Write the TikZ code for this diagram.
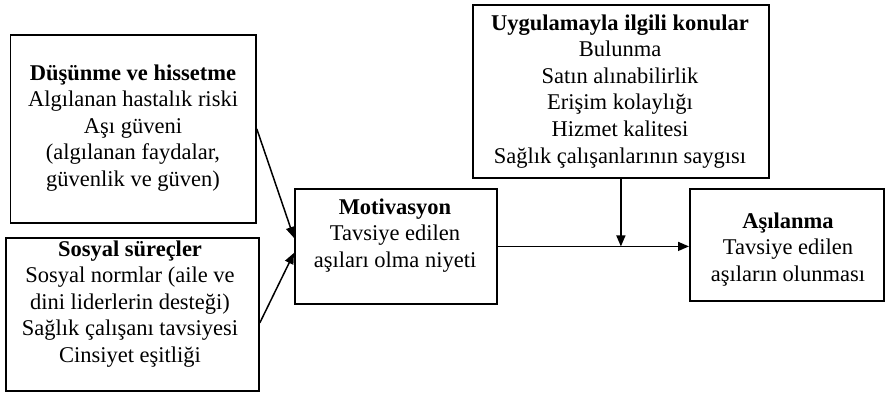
\documentclass[tikz,border=0pt]{standalone}
\usepackage{fontspec}
\setmainfont{Liberation Serif}
\usetikzlibrary{arrows.meta}
\begin{document}
\begin{tikzpicture}[x=0.5pt,y=-0.5pt,
  box/.style={draw, line width=0.9pt, rectangle, inner sep=0pt, anchor=north west},
  txt/.style={anchor=base, inner sep=0pt, font=\fontsize{11.25}{13.3}\selectfont},
  link/.style={line width=0.75pt, -{Triangle[length=5.5pt,width=4.5pt]}}]
\useasboundingbox (0,0) rectangle (885,398);

% frames
\node[box, minimum width=122.75pt, minimum height=94pt]   (think)  at (9.5,34) {};
\node[box, minimum width=126.5pt,  minimum height=76.5pt] (social) at (5,237) {};
\node[box, minimum width=101pt,    minimum height=57.5pt] (motiv)  at (294,188) {};
\node[box, minimum width=148pt,    minimum height=86.5pt] (impl)   at (472,4) {};
\node[box, minimum width=97pt,     minimum height=56pt]   (vacc)   at (689,188) {};

% texts (first baseline at the given point)
\node[txt] (thinkT) at (133,80) {\begin{tabular}[t]{@{}c@{}}\textbf{Düşünme ve hissetme}\\
  Algılanan hastalık riski\\ Aşı güveni\\ (algılanan faydalar,\\ güvenlik ve güven)\end{tabular}};
\node[txt] (socialT) at (130,256) {\begin{tabular}[t]{@{}c@{}}\textbf{Sosyal süreçler}\\
  Sosyal normlar (aile ve\\ dini liderlerin desteği)\\ Sağlık çalışanı tavsiyesi\\ Cinsiyet eşitliği\end{tabular}};
\node[txt] (motivT) at (395,214) {\begin{tabular}[t]{@{}c@{}}\textbf{Motivasyon}\\
  Tavsiye edilen\\ aşıları olma niyeti\end{tabular}};
\node[txt] (implT) at (620,30) {\begin{tabular}[t]{@{}c@{}}\textbf{Uygulamayla ilgili konular}\\
  Bulunma\\ Satın alınabilirlik\\ Erişim kolaylığı\\ Hizmet kalitesi\\ Sağlık çalışanlarının saygısı\end{tabular}};
\node[txt] (vaccT) at (788,228) {\begin{tabular}[t]{@{}c@{}}\textbf{Aşılanma}\\
  Tavsiye edilen\\ aşıların olunması\end{tabular}};

% connectors
\draw[link] (think.east) -- ([yshift=4.25pt]motiv.west);
\draw[link] ([yshift=-4.25pt]social.east) -- ([yshift=-3.25pt]motiv.west);
\draw[link] (motiv.east) -- (motiv.east -| vacc.west);
\coordinate (join) at (impl.south |- motiv.east);
\draw[link] (impl.south) -- (join);
\end{tikzpicture}
\end{document}
